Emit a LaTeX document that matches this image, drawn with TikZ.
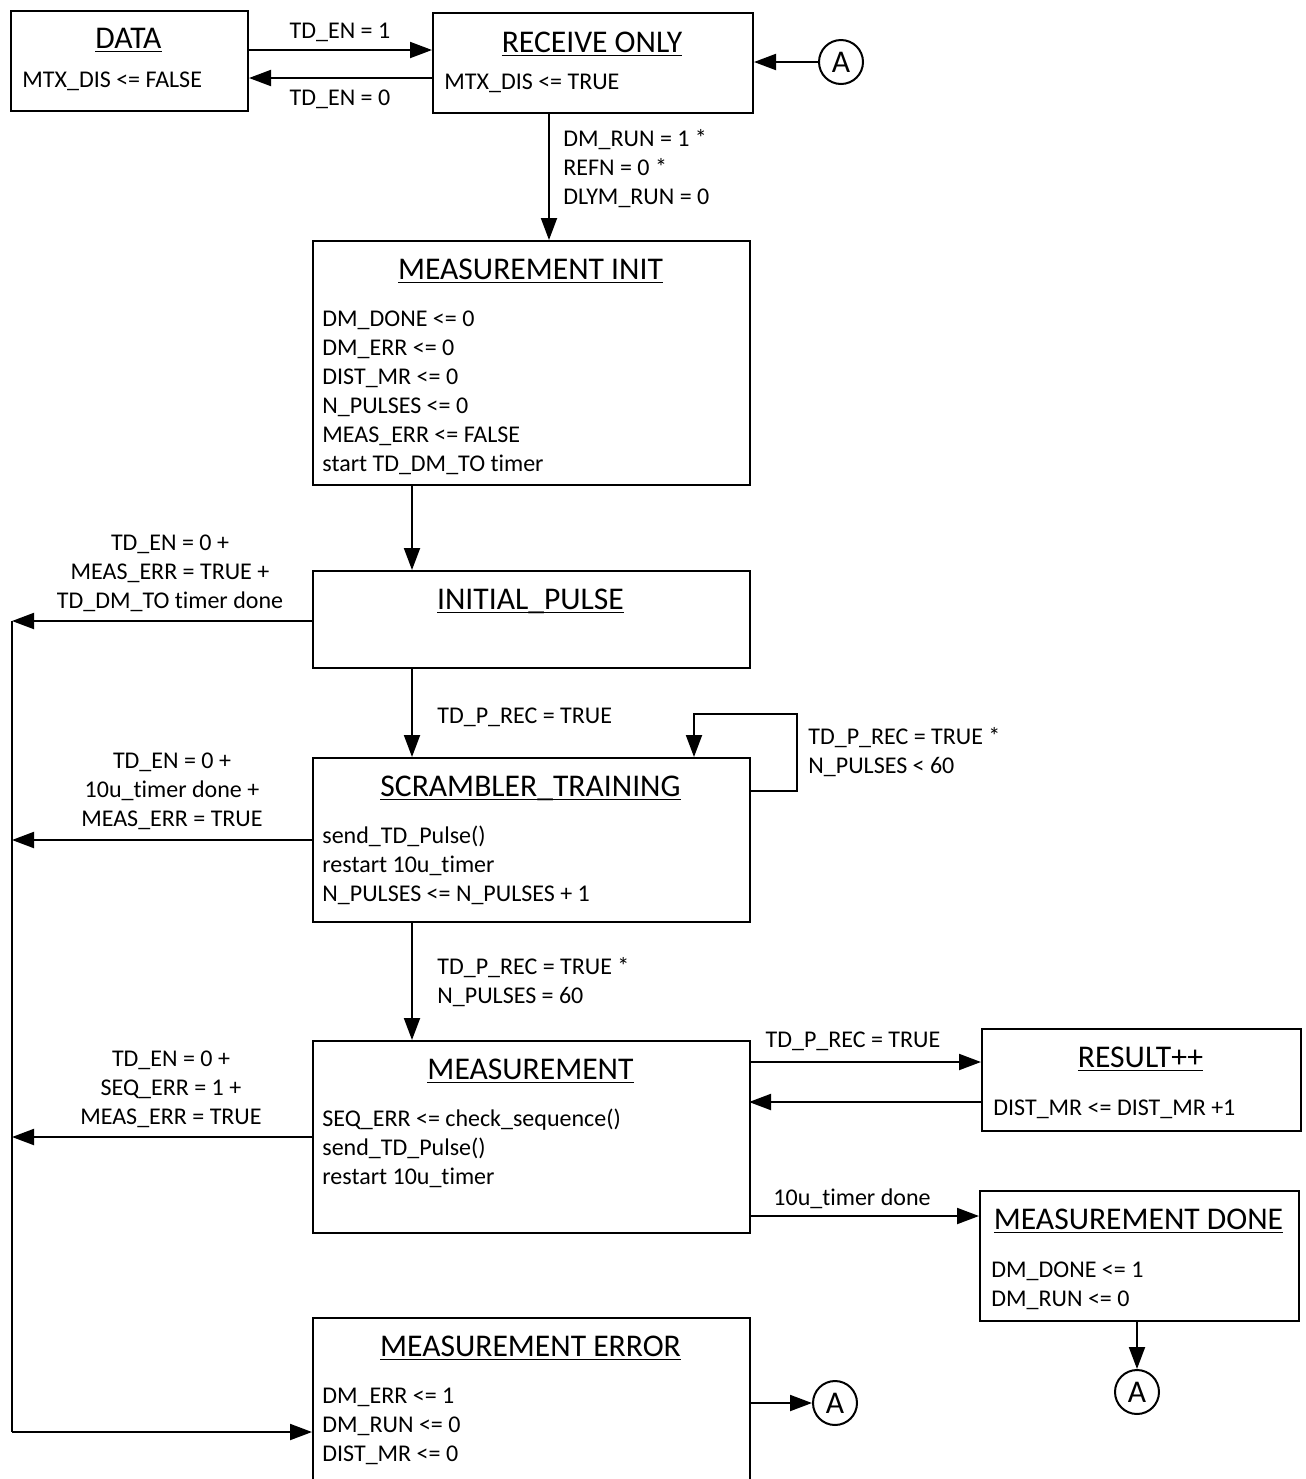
\documentclass[tikz,border=0pt]{standalone}
\usepackage{fontspec}
\setmainfont{Carlito}[Ligatures=NoCommon]
\usetikzlibrary{arrows.meta,calc}
\newcommand{\ttl}[1]{\setbox0\hbox{#1}\rlap{\rule[-2.2pt]{\wd0}{0.75pt}}\box0}
\begin{document}
\begin{tikzpicture}[x=0.5pt,y=-0.5pt,
  box/.style={draw,line width=1pt,inner sep=0pt,anchor=north west,fill=white},
  conn/.style={draw,line width=1pt,inner sep=0pt,circle,minimum size=22pt,font=\fontsize{15.8}{18}\selectfont},
  ttext/.style={inner sep=0pt,anchor=base,font=\fontsize{15.8}{18}\selectfont},
  btext/.style={inner sep=0pt,anchor=base west,align=left,font=\fontsize{12}{14.5}\selectfont},
  ctext/.style={inner sep=0pt,anchor=base,align=center,font=\fontsize{12}{14.5}\selectfont},
  arr/.style={line width=1pt,-{Triangle[length=11pt,width=8pt]}},
  ln/.style={line width=1pt}]
\useasboundingbox (0,0) rectangle (1306,1479);
% boxes
\node[box,minimum width=118.5pt,minimum height=50pt] (data) at (10,10) {};
\node[box,minimum width=160pt,minimum height=50pt] (ro) at (432,12) {};
\node[box,minimum width=218.5pt,minimum height=122pt] (mi) at (312,240) {};
\node[box,minimum width=218.5pt,minimum height=48.5pt] (ip) at (312,570) {};
\node[box,minimum width=218.5pt,minimum height=82pt] (st) at (312,757) {};
\node[box,minimum width=218.5pt,minimum height=96pt] (ms) at (312,1040) {};
\node[box,minimum width=159.5pt,minimum height=51pt] (res) at (981,1028) {};
\node[box,minimum width=159.5pt,minimum height=65pt] (md) at (979,1190) {};
\node[box,minimum width=218.5pt,minimum height=95pt] (me) at (312,1317) {};
% connectors A
\node[conn] (a1) at (841,62) {A};
\node[conn] (a2) at (1137,1392) {A};
\node[conn] (a3) at (835,1403) {A};
% titles
\node[ttext] (tdata) at (128.5,48) {\ttl{DATA}};
\node[ttext] (tro) at (592,52) {\ttl{RECEIVE ONLY}};
\node[ttext] (tmi) at (530.5,279) {\ttl{MEASUREMENT INIT}};
\node[ttext] (tip) at (530.5,609) {\ttl{INITIAL\_PULSE}};
\node[ttext] (tst) at (530.5,796) {\ttl{SCRAMBLER\_TRAINING}};
\node[ttext] (tms) at (530.5,1079) {\ttl{MEASUREMENT}};
\node[ttext] (tres) at (1140.5,1067) {\ttl{RESULT++}};
\node[ttext] (tmd) at (1138.5,1229) {\ttl{MEASUREMENT DONE}};
\node[ttext] (tme) at (530.5,1356) {\ttl{MEASUREMENT ERROR}};
% bodies (base = last line)
\node[btext] (bdata) at (22,87) {MTX\_DIS <= FALSE};
\node[btext] (bro) at (444,89) {MTX\_DIS <= TRUE};
\node[btext] (bmi) at (322,471) {DM\_DONE <= 0\\DM\_ERR <= 0\\DIST\_MR <= 0\\N\_PULSES <= 0\\MEAS\_ERR <= FALSE\\start TD\_DM\_TO timer};
\node[btext] (bst) at (322,901) {send\_TD\_Pulse()\\restart 10u\_timer\\N\_PULSES <= N\_PULSES + 1};
\node[btext] (bms) at (322,1184) {SEQ\_ERR <= check\_sequence()\\send\_TD\_Pulse()\\restart 10u\_timer};
\node[btext] (bres) at (993,1115) {DIST\_MR <= DIST\_MR +1};
\node[btext] (bmd) at (991,1306) {DM\_DONE <= 1\\DM\_RUN <= 0};
\node[btext] (bme) at (322,1461) {DM\_ERR <= 1\\DM\_RUN <= 0\\DIST\_MR <= 0};
% labels
\node[ctext] (lten1) at (340,38) {TD\_EN = 1};
\node[ctext] (lten0) at (340,105) {TD\_EN = 0};
\node[btext] (lromi) at (563,204) {DM\_RUN = 1 *\\REFN = 0 *\\DLYM\_RUN = 0};
\node[ctext] (lip) at (170,608) {TD\_EN = 0 +\\MEAS\_ERR = TRUE +\\TD\_DM\_TO timer done};
\node[btext] (lipst) at (437,723) {TD\_P\_REC = TRUE};
\node[btext] (lloop) at (808,773) {TD\_P\_REC = TRUE *\\N\_PULSES < 60};
\node[ctext] (lst) at (172,826) {TD\_EN = 0 +\\10u\_timer done +\\MEAS\_ERR = TRUE};
\node[btext] (lstms) at (437,1003) {TD\_P\_REC = TRUE *\\N\_PULSES = 60};
\node[ctext] (lms) at (171,1124) {TD\_EN = 0 +\\SEQ\_ERR = 1 +\\MEAS\_ERR = TRUE};
\node[ctext] (lres) at (853,1047) {TD\_P\_REC = TRUE};
\node[ctext] (lmd) at (852,1205) {10u\_timer done};
% coordinates
\coordinate (c1) at ($(ro.south west)+(117,0)$);
\coordinate (c2) at ($(mi.south west)+(100,0)$);
\coordinate (bus) at (12,621);
\coordinate (busb) at (12,1432);
\coordinate (lp) at (797,714);
\coordinate (lq) at ($(st.north west)+(382,0)$);
\coordinate (r1) at (749,1062);
\coordinate (r2) at (749,1102);
\coordinate (r3) at (749,1216);
% connectors
\draw[arr] ($(data.north east)+(0,40)$) -- ($(ro.north west)+(0,38)$);
\draw[arr] ($(ro.north west)+(0,66)$) -- ($(data.north east)+(0,68)$);
\draw[arr] (a1.west) -- (ro.east |- a1);
\draw[arr] (c1) -- (c1 |- mi.north);
\draw[arr] (c2) -- (c2 |- ip.north);
\draw[arr] (c2 |- ip.south) -- (c2 |- st.north);
\draw[arr] (c2 |- st.south) -- (c2 |- ms.north);
\draw[ln] (bus) -- (busb);
\draw[arr] (ip.west |- bus) -- (bus);
\draw[arr] (st.west) -- (st.west -| bus);
\draw[arr] (ms.west) -- (ms.west -| bus);
\draw[arr] (busb) -- (busb -| me.west);
\draw[arr] ($(st.north east)+(0,34)$) -| (lp) -| (lq);
\draw[arr] (r1) -- (r1 -| res.west);
\draw[arr] (r2 -| res.west) -- (r2);
\draw[arr] (r3) -- (r3 -| md.west);
\draw[arr] (a2 |- md.south) -- (a2.north);
\draw[arr] (a3 -| me.east) -- (a3.west);
\end{tikzpicture}
\end{document}
